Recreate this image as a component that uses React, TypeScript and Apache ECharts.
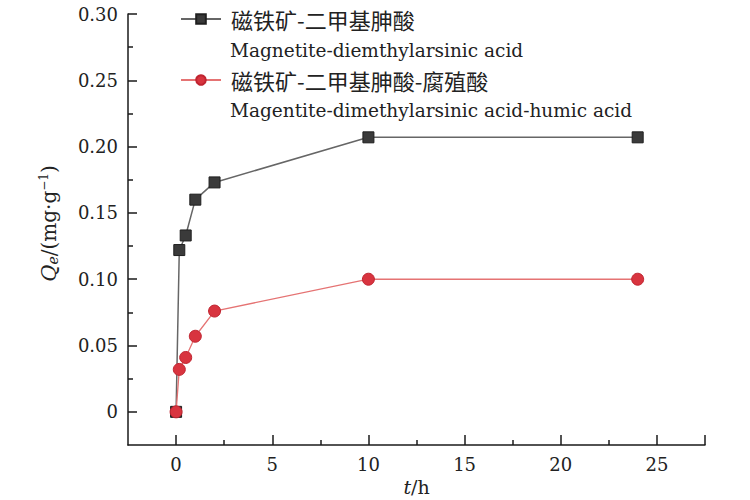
import React, { useEffect, useRef } from "react";
import * as echarts from "echarts";

const tHours = [0, 0.167, 0.5, 1, 2, 10, 24];
const qeMagnetite = [0, 0.122, 0.133, 0.16, 0.173, 0.207, 0.207];
const qeHumic = [0, 0.032, 0.041, 0.057, 0.076, 0.1, 0.1];

const seriesNamesCn = ["磁铁矿-二甲基胂酸", "磁铁矿-二甲基胂酸-腐殖酸"];
const seriesNamesEn = [
  "Magnetite-diemthylarsinic acid",
  "Magentite-dimethylarsinic acid-humic acid",
];

const yMajorTicks = [0, 0.05, 0.1, 0.15, 0.2, 0.25, 0.3];
const yMinorTicks = [0.025, 0.075, 0.125, 0.175, 0.225, 0.275];
const xMajorTicks = [0, 5, 10, 15, 20, 25];
const xMinorTicks = [2.5, 7.5, 12.5, 17.5, 22.5];
const xEndTick = [27.5];

const SERIF = "DejaVu Serif";
const CJK = "Noto Sans CJK SC";
const AXIS_COLOR = "#1a1a1a";

export default function App() {
  const ref = useRef<HTMLDivElement>(null);
  useEffect(() => {
    if (!ref.current) return;
    const chart = echarts.init(ref.current, null, { renderer: "svg" });
    const mk = (xs: number[], ys: number[]) => xs.map((x, i) => [x, ys[i]]);
    const baseAxisLine = { show: true, lineStyle: { color: AXIS_COLOR, width: 1.5 } };
    chart.setOption({
      animation: false,
      backgroundColor: "#ffffff",
      grid: {
        left: 128,
        right: 45,
        top: 14,
        bottom: 55,
        containLabel: false,
        outerBoundsMode: "none",
      },
      legend: {
        orient: "vertical",
        left: 180,
        top: 7,
        padding: 0,
        itemWidth: 40,
        itemHeight: 12,
        itemGap: 37,
        data: seriesNamesCn,
        textStyle: {
          fontFamily: CJK,
          fontSize: 22,
          color: "#222",
          lineHeight: 24,
          padding: [0, 0, 0, 5],
        },
      },
      graphic: [
        {
          type: "text",
          x: 230,
          y: 50,
          style: {
            text: seriesNamesEn[0],
            font: `18.5px "${SERIF}"`,
            fill: "#222",
            verticalAlign: "middle",
          },
        },
        {
          type: "text",
          x: 230,
          y: 110,
          style: {
            text: seriesNamesEn[1],
            font: `18.5px "${SERIF}"`,
            fill: "#222",
            verticalAlign: "middle",
          },
        },
      ],
      xAxis: [
        {
          type: "value",
          min: -2.5,
          max: 27.5,
          splitLine: { show: false },
          axisLine: { ...baseAxisLine, onZero: false },
          axisTick: {
            show: true,
            inside: true,
            length: 10,
            customValues: [...xMajorTicks, ...xEndTick],
            lineStyle: { color: AXIS_COLOR, width: 1.5 },
          },
          axisLabel: {
            customValues: xMajorTicks,
            fontFamily: SERIF,
            fontSize: 18,
            color: "#222",
            margin: 10,
          },
          name: "{i|t}/h",
          nameLocation: "middle",
          nameGap: 31,
          nameTextStyle: {
            fontFamily: SERIF,
            fontSize: 19,
            color: "#222",
            rich: {
              i: { fontFamily: SERIF, fontSize: 19, fontStyle: "italic", color: "#222" },
            },
          },
        },
        {
          type: "value",
          min: -2.5,
          max: 27.5,
          position: "bottom",
          splitLine: { show: false },
          axisLine: { show: false, onZero: false },
          axisTick: {
            show: true,
            inside: true,
            length: 5,
            customValues: xMinorTicks,
            lineStyle: { color: AXIS_COLOR, width: 1.5 },
          },
          axisLabel: { show: false },
        },
      ],
      yAxis: [
        {
          type: "value",
          min: -0.025,
          max: 0.3,
          splitLine: { show: false },
          axisLine: { ...baseAxisLine, onZero: false },
          axisTick: {
            show: true,
            inside: true,
            length: 9,
            customValues: yMajorTicks,
            lineStyle: { color: AXIS_COLOR, width: 1.5 },
          },
          axisLabel: {
            customValues: yMajorTicks,
            formatter: (v: number) => (Math.abs(v) < 1e-9 ? "0" : v.toFixed(2)),
            fontFamily: SERIF,
            fontSize: 18,
            color: "#222",
            margin: 10,
          },
          name: "{i|Q}{sub|e}/(mg·g{sup|−1})",
          nameLocation: "middle",
          nameGap: 68,
          nameRotate: 90,
          nameTextStyle: {
            fontFamily: SERIF,
            fontSize: 20,
            color: "#222",
            padding: [0, 0, 0, 12],
            rich: {
              i: { fontFamily: SERIF, fontSize: 21, fontStyle: "italic", color: "#222" },
              sub: {
                fontFamily: SERIF,
                fontSize: 14,
                fontStyle: "italic",
                color: "#222",
                verticalAlign: "bottom",
                padding: [8, 0, 0, 0],
              },
              sup: {
                fontFamily: SERIF,
                fontSize: 12,
                color: "#222",
                verticalAlign: "top",
                padding: [0, 0, 10, 0],
              },
            },
          },
        },
        {
          type: "value",
          min: -0.025,
          max: 0.3,
          position: "left",
          splitLine: { show: false },
          axisLine: { show: false, onZero: false },
          axisTick: {
            show: true,
            inside: true,
            length: 5,
            customValues: yMinorTicks,
            lineStyle: { color: AXIS_COLOR, width: 1.5 },
          },
          axisLabel: { show: false },
        },
      ],
      series: [
        {
          name: seriesNamesCn[0],
          type: "line",
          data: mk(tHours, qeMagnetite),
          symbol: "rect",
          symbolSize: 11,
          lineStyle: { color: "#666666", width: 1.5 },
          itemStyle: { color: "#3a3a3a", borderColor: "#1f1f1f", borderWidth: 1 },
          z: 2,
        },
        {
          name: seriesNamesCn[1],
          type: "line",
          data: mk(tHours, qeHumic),
          symbol: "circle",
          symbolSize: 12,
          lineStyle: { color: "#e57373", width: 1.3 },
          itemStyle: { color: "#d8343f", borderColor: "#c02430", borderWidth: 1 },
          z: 3,
        },
      ],
    });
    return () => chart.dispose();
  }, []);
  return (
    <div
      ref={ref}
      style={{ position: "fixed", left: 0, top: 0, width: 750, height: 500, background: "#fff" }}
    />
  );
}
